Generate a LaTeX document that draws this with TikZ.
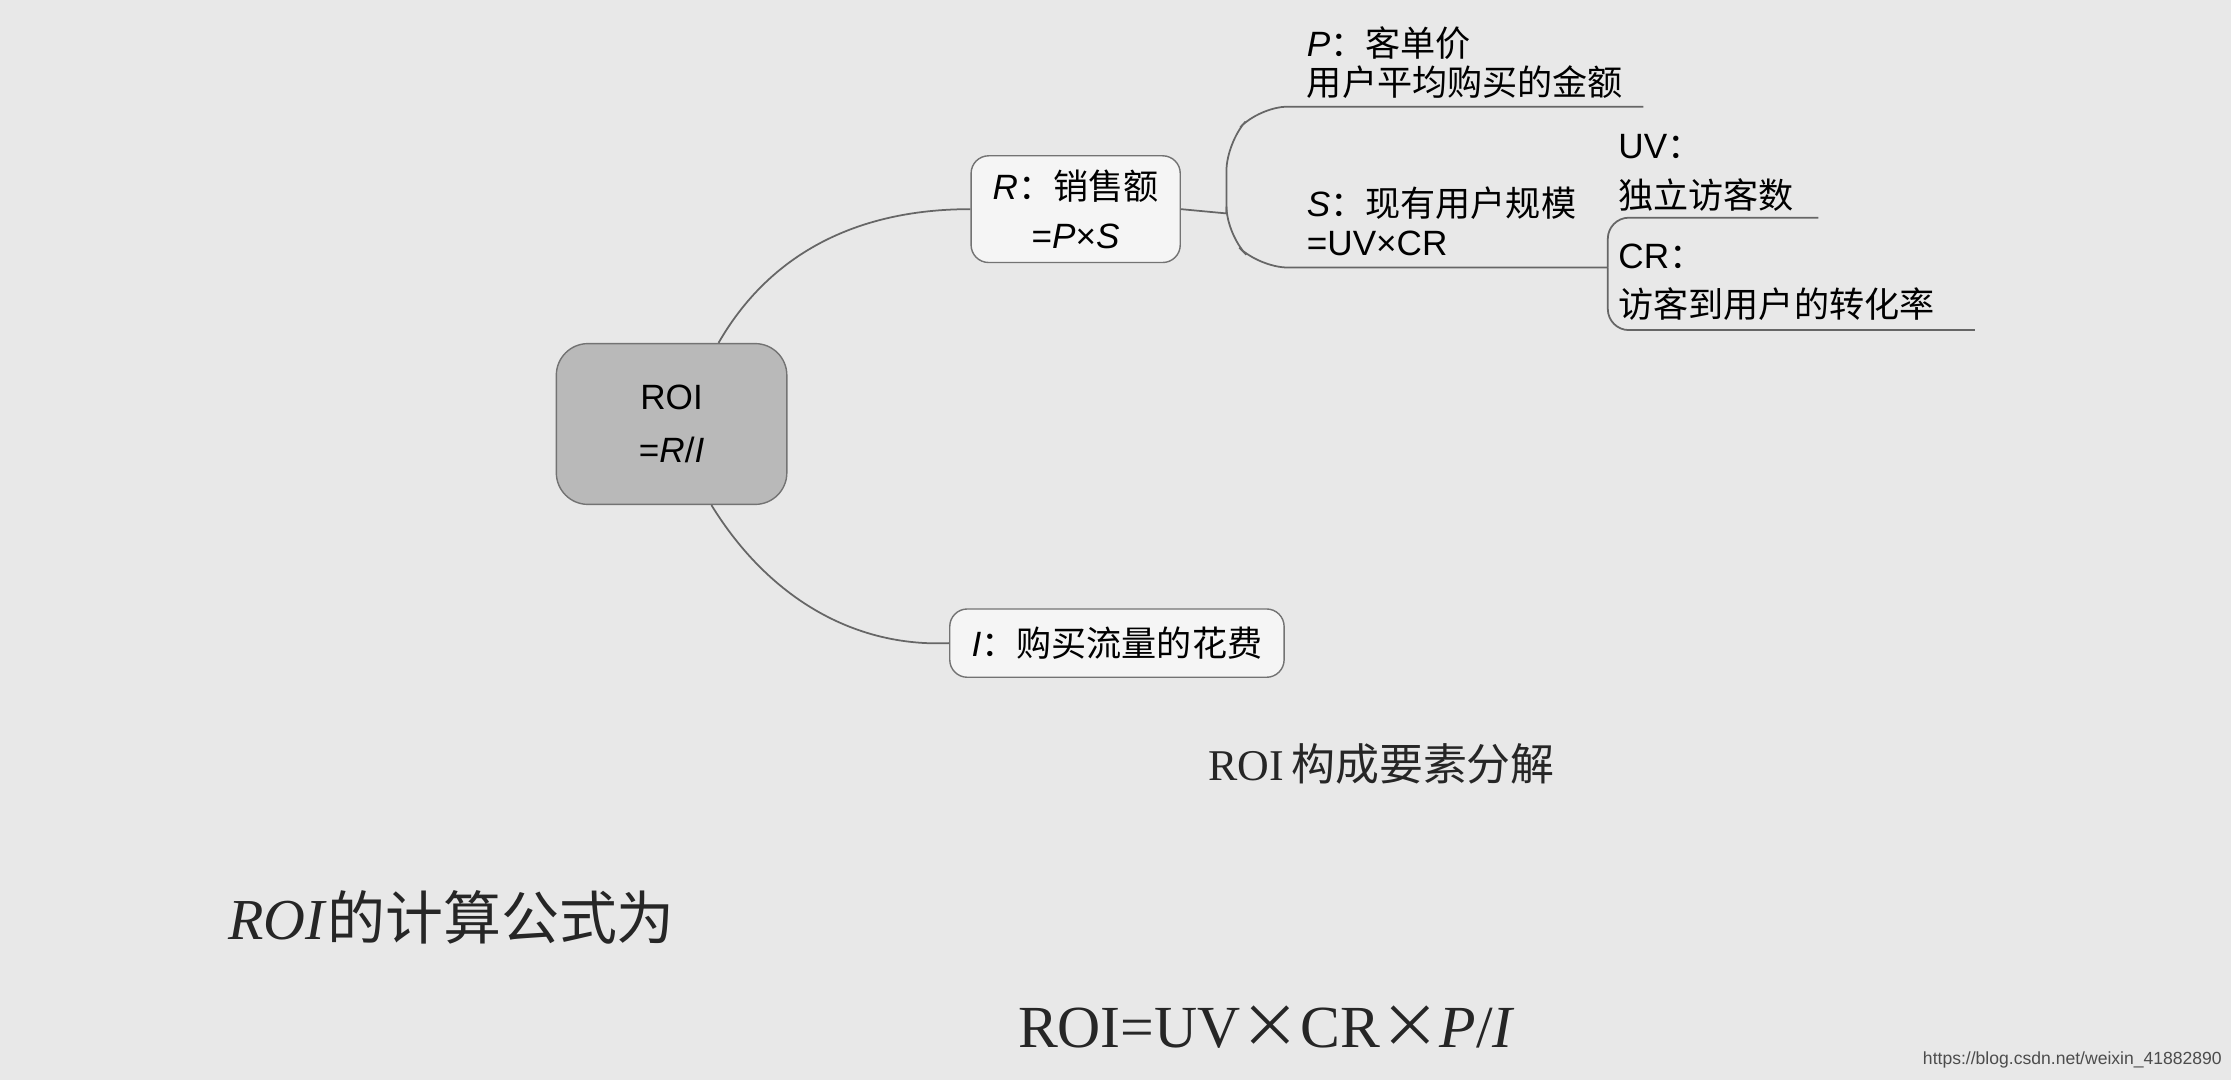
\documentclass[tikz,border=0pt]{standalone}
\usepackage{fontspec}
\setmainfont{Liberation Serif}
\setsansfont{Liberation Sans}
\newfontfamily\cjk{Noto Sans CJK SC}
\begin{document}
\begin{tikzpicture}[x=0.01423cm,y=-0.01423cm,
  box/.style={draw=black!55,rounded corners=5pt,align=center,inner sep=3pt},
  t/.style={anchor=west,font=\sffamily\fontsize{10}{12}\selectfont,inner sep=0pt},
  ln/.style={black!60,line width=0.5pt}]
\fill[gray!18] (0,0) rectangle (1568,759);
\useasboundingbox (0,0) rectangle (1568,759);
\node[box,fill=gray!55,minimum width=162*0.01423cm,minimum height=113*0.01423cm,rounded corners=9pt,font=\sffamily\fontsize{10}{15}\selectfont] (roi) at (472,298) {ROI\\=\textit{R}/\textit{I}};
\node[box,fill=gray!8,minimum width=147*0.01423cm,minimum height=75*0.01423cm,font=\sffamily\fontsize{10}{14}\selectfont] (r) at (756,147) {\textit{R}{\cjk：销售额}\\=\textit{P}×\textit{S}\hspace{2em}};
\node[box,fill=gray!8,minimum width=235*0.01423cm,minimum height=48*0.01423cm,font=\sffamily\fontsize{10}{14}\selectfont] (i) at (785,452) {\textit{I}{\cjk：购买流量的花费}};
\draw[ln] (roi.north)++(33,0) coordinate (a1) .. controls (540,180) and (600,147) .. (r.west);
\draw[ln] (roi.south)++(28,0) coordinate (a2) .. controls (540,420) and (600,455) .. (i.west);
\coordinate (rb) at (862,150);
\draw[ln] (r.east) -- (rb);
\draw[ln,rounded corners=8pt] (rb) -- (862,100) -- (885,75) -- (1155,75);
\draw[ln,rounded corners=8pt] (rb) -- (862,165) -- (885,188) -- (1130,188);
\draw[ln,rounded corners=6pt] (1130,188) -- (1130,153) -- (1278,153);
\draw[ln,rounded corners=6pt] (1130,188) -- (1130,232) -- (1388,232);
\node[t] (p1) at (918,30) {\textit{P}{\cjk：客单价}};
\node[t] (p2) at (918,58) {\cjk 用户平均购买的金额};
\node[t] (s1) at (918,143) {\textit{S}{\cjk：现有用户规模}};
\node[t] (s2) at (918,171) {=UV×CR};
\node[t] (u1) at (1137,103) {UV{\cjk：}};
\node[t] (u2) at (1137,137) {\cjk 独立访客数};
\node[t] (c1) at (1137,180) {CR{\cjk：}};
\node[t] (c2) at (1137,214) {\cjk 访客到用户的转化率};
\node[font=\fontsize{12.5}{14}\selectfont,text=black!85] (cap) at (971,537) {ROI{\,\cjk 构成要素分解}};
\node[anchor=west,font=\fontsize{16.5}{18}\selectfont,text=black!85,inner sep=0pt] (f1) at (160,645) {\textit{ROI}{\cjk 的计算公式为}};
\node[anchor=west,font=\fontsize{17}{19}\selectfont,text=black!85,inner sep=0pt] (f2) at (715,722) {ROI=UV{\cjk ×}CR{\cjk ×}\textit{P}/\textit{I}};
\node[anchor=east,font=\sffamily\fontsize{5}{6}\selectfont,text=black!70,inner sep=0pt] (w) at (1562,745) {https://blog.csdn.net/weixin\_41882890};
\end{tikzpicture}
\end{document}
